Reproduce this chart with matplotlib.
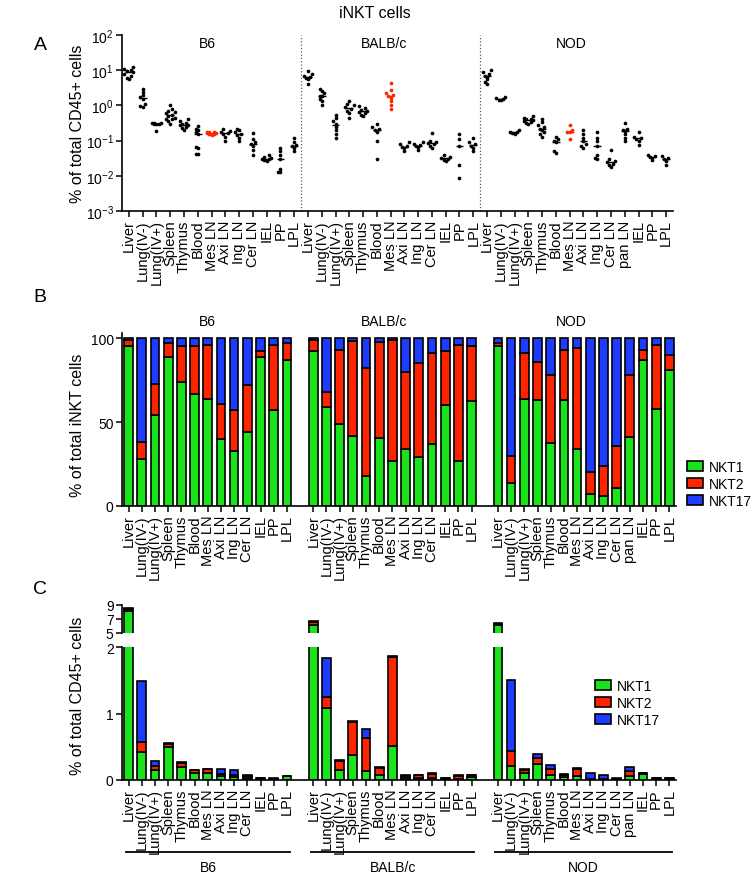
import numpy as np
import matplotlib
matplotlib.use('Agg')
import matplotlib.pyplot as plt
from matplotlib.patches import Patch
from matplotlib.transforms import blended_transform_factory

plt.rcParams['font.family'] = ['Liberation Sans', 'DejaVu Sans']
plt.rcParams['mathtext.default'] = 'regular'
plt.rcParams['axes.linewidth'] = 1.2

# ===== categories =====
tissues = ['Liver', 'Lung(IV-)', 'Lung(IV+)', 'Spleen', 'Thymus', 'Blood',
           'Mes LN', 'Axi LN', 'Ing LN', 'Cer LN', 'IEL', 'PP', 'LPL']
tissues_nod = tissues[:10] + ['pan LN'] + tissues[10:]
strains = ['B6', 'BALB/c', 'NOD']

# ===== A: % of CD45+ (individual mice) =====
b6_freq = [
    [12, 11, 10, 9.5, 8.8, 8, 7, 6, 5.8],
    [2.9, 2.4, 2.0, 1.7, 1.5, 1.1, 0.9, 0.95],
    [0.32, 0.31, 0.30, 0.30, 0.29, 0.31, 0.19],
    [1.0, 0.8, 0.7, 0.65, 0.6, 0.55, 0.5, 0.45, 0.42, 0.4, 0.35, 0.3],
    [0.4, 0.35, 0.32, 0.3, 0.28, 0.27, 0.25, 0.23, 0.2],
    [0.26, 0.22, 0.2, 0.17, 0.15, 0.065, 0.06, 0.042, 0.042],
    [0.18, 0.17, 0.17, 0.16, 0.16, 0.15, 0.15, 0.14],
    [0.22, 0.19, 0.17, 0.16, 0.15, 0.13, 0.1],
    [0.22, 0.2, 0.17, 0.15, 0.14, 0.12, 0.1],
    [0.16, 0.11, 0.09, 0.08, 0.07, 0.055, 0.04],
    [0.038, 0.035, 0.033, 0.031, 0.03, 0.028, 0.027],
    [0.06, 0.05, 0.04, 0.03, 0.016, 0.013, 0.013],
    [0.12, 0.09, 0.075, 0.07, 0.06, 0.05],
]
balb_freq = [
    [9.5, 8, 7, 6.5, 6, 5.5, 4],
    [3.0, 2.6, 2.2, 1.9, 1.8, 1.5, 1.3, 1.0],
    [0.55, 0.45, 0.35, 0.3, 0.25, 0.2, 0.15, 0.12],
    [1.35, 1.1, 1.0, 0.9, 0.8, 0.7, 0.6, 0.43],
    [0.95, 0.85, 0.75, 0.7, 0.65, 0.6, 0.55, 0.5],
    [0.3, 0.25, 0.22, 0.2, 0.18, 0.1, 0.03],
    [4.4, 2.8, 2.2, 2.0, 1.8, 1.6, 1.3, 1.0, 0.8],
    [0.09, 0.08, 0.07, 0.065, 0.06, 0.05],
    [0.09, 0.08, 0.075, 0.07, 0.065, 0.055],
    [0.16, 0.1, 0.09, 0.085, 0.08, 0.07, 0.06],
    [0.04, 0.035, 0.033, 0.03, 0.028, 0.027],
    [0.15, 0.11, 0.07, 0.02, 0.0085],
    [0.12, 0.09, 0.08, 0.07, 0.06, 0.05],
]
nod_freq = [
    [10, 9, 8, 7, 6.5, 5.5, 4.5, 4.0],
    [1.7, 1.6, 1.5, 1.45, 1.4],
    [0.2, 0.18, 0.17, 0.16, 0.15],
    [0.5, 0.45, 0.42, 0.4, 0.38, 0.36, 0.34, 0.32, 0.3],
    [0.4, 0.33, 0.28, 0.25, 0.22, 0.2, 0.17, 0.15, 0.13],
    [0.13, 0.11, 0.095, 0.09, 0.05, 0.045],
    [0.27, 0.2, 0.18, 0.17, 0.11],
    [0.2, 0.15, 0.12, 0.1, 0.08, 0.07, 0.06],
    [0.18, 0.12, 0.1, 0.07, 0.04, 0.032, 0.03],
    [0.055, 0.03, 0.027, 0.024, 0.022, 0.02, 0.018],
    [0.32, 0.22, 0.2, 0.19, 0.15, 0.12, 0.1],
    [0.17, 0.13, 0.12, 0.11, 0.1, 0.075],
    [0.038, 0.036, 0.035, 0.033, 0.028],
    [0.036, 0.033, 0.03, 0.027, 0.02],
]

# ===== B: subset composition (% of iNKT) =====
b6_pct1 = [95, 28, 54, 89, 74, 66.5, 64, 40, 33, 44, 88.6, 57, 87]
b6_pct2 = [3.8, 10, 18.5, 8, 21, 28.5, 32, 21, 24, 28, 3.6, 39, 10]
b6_pct17 = [1.2, 62, 27.5, 3, 5, 5, 4, 39, 43, 28, 7.8, 4, 3]
balb_pct1 = [92, 59, 49, 41.6, 18, 40.6, 27, 34, 29, 37, 60, 27, 62.4]
balb_pct2 = [7, 9, 44, 56.4, 64, 57.2, 72, 46, 56, 54, 32, 69, 32.6]
balb_pct17 = [1, 32, 7, 2, 18, 2.2, 1, 20, 15, 9, 8, 4, 5]
nod_pct1 = [95.4, 13.5, 64, 63, 37.6, 63, 34, 7, 6, 11, 41, 87, 58, 80.7]
nod_pct2 = [1.6, 16, 27, 23, 40.4, 30, 60, 13, 18, 25, 37, 6, 38, 9]
nod_pct17 = [3, 70.5, 9, 14, 22, 7, 6, 80, 76, 64, 22, 7, 4, 10.3]

# ===== C: subset frequency (% of CD45+) =====
b6_abs1 = [8.1, 0.425, 0.155, 0.5, 0.2, 0.1, 0.1, 0.06, 0.05, 0.035, 0.027, 0.012, 0.057]
b6_abs2 = [0.35, 0.15, 0.06, 0.045, 0.06, 0.045, 0.06, 0.035, 0.03, 0.025, 0.001, 0.01, 0.006]
b6_abs17 = [0.1, 0.915, 0.075, 0.015, 0.015, 0.008, 0.007, 0.065, 0.07, 0.02, 0.002, 0.001, 0.002]
balb_abs1 = [6.1, 1.08, 0.145, 0.375, 0.14, 0.075, 0.515, 0.025, 0.025, 0.035, 0.02, 0.02, 0.045]
balb_abs2 = [0.45, 0.17, 0.135, 0.49, 0.485, 0.11, 1.34, 0.035, 0.045, 0.055, 0.01, 0.045, 0.025]
balb_abs17 = [0.1, 0.58, 0.025, 0.02, 0.14, 0.01, 0.015, 0.015, 0.01, 0.01, 0.005, 0.005, 0.005]
nod_abs1 = [6.1, 0.205, 0.105, 0.24, 0.075, 0.04, 0.055, 0.008, 0.004, 0.003, 0.065, 0.095, 0.012, 0.02]
nod_abs2 = [0.25, 0.235, 0.04, 0.085, 0.09, 0.035, 0.11, 0.01, 0.012, 0.007, 0.075, 0.008, 0.015, 0.005]
nod_abs17 = [0.1, 1.06, 0.025, 0.06, 0.06, 0.01, 0.015, 0.085, 0.055, 0.015, 0.05, 0.007, 0.003, 0.005]

GREEN, RED, BLUE = '#1BE31B', '#FF2400', '#1E3CFF'
W, H = 751, 878
TICK_FS = 10
XLAB_FS = 10.5


def fx(px):
    return px / W


def fy(py):
    return 1 - py / H


def swarm(vals, step=0.16, tol=0.07):
    logv = np.log10(np.asarray(vals, dtype=float))
    offs = np.zeros(len(logv))
    k, prev = 0, None
    for i in np.argsort(logv):
        k = k + 1 if (prev is not None and logv[i] - prev < tol) else 0
        prev = logv[i]
        n = ((k + 1) // 2 - 1) % 2 + 1 if k else 0
        offs[i] = (-1 if k % 2 else 1) * n * step
    return offs


fig = plt.figure(figsize=(W / 100, H / 100), dpi=100)
fig.text(fx(375), fy(13), 'iNKT cells', ha='center', va='center', fontsize=11.5)

# ===== Panel A =====
axA = fig.add_axes([fx(122), fy(212), fx(673 - 122), (212 - 36) / H])
labelsA = tissues + tissues + tissues_nod
allfreq = b6_freq + balb_freq + nod_freq
mes_idx = [6, 19, 32]
for i, vals in enumerate(allfreq):
    c = RED if i in mes_idx else 'k'
    axA.scatter(i + swarm(vals), vals, s=7, color=c, lw=0, zorder=3)
    axA.hlines(np.median(vals), i - 0.28, i + 0.28, color=c, lw=1, zorder=3)
axA.set_yscale('log')
axA.set_ylim(1e-3, 1e2)
axA.set_xlim(-0.5, len(labelsA) - 0.5)
axA.yaxis.set_minor_locator(matplotlib.ticker.NullLocator())
axA.set_xticks(np.arange(len(labelsA)))
axA.set_xticklabels(labelsA, rotation=90, fontsize=XLAB_FS)
for xs in [12.5, 25.5]:
    axA.axvline(xs, color='0.35', ls=':', lw=0.9)
for s in ['top', 'right']:
    axA.spines[s].set_visible(False)
axA.tick_params(labelsize=TICK_FS, width=1.1, length=4, pad=2)
axA.tick_params(axis='x', labelsize=XLAB_FS)
for s, xp in zip(strains, [207, 384, 571]):
    fig.text(fx(xp), fy(44), s, ha='center', va='center', fontsize=10)

# ===== Panel B =====
pos_b6 = np.arange(13)
pos_balb = 14 + np.arange(13)
pos_nod = 28 + np.arange(14)
posall = np.concatenate([pos_b6, pos_balb, pos_nod])
labelsBC = tissues + tissues + tissues_nod

axB = fig.add_axes([fx(122), fy(507), fx(676 - 122), 173 / H])
for pos, p1, p2, p17 in [(pos_b6, b6_pct1, b6_pct2, b6_pct17),
                         (pos_balb, balb_pct1, balb_pct2, balb_pct17),
                         (pos_nod, nod_pct1, nod_pct2, nod_pct17)]:
    p1, p2, p17 = map(np.array, (p1, p2, p17))
    kw = dict(width=0.66, edgecolor='k', lw=1.2)
    axB.bar(pos, p1, color=GREEN, **kw)
    axB.bar(pos, p2, bottom=p1, color=RED, **kw)
    axB.bar(pos, p17, bottom=p1 + p2, color=BLUE, **kw)
axB.set_xlim(-0.5, 41.5)
axB.set_ylim(0, 103)
axB.set_yticks([0, 50, 100])
axB.set_xticks(posall)
axB.set_xticklabels(labelsBC, rotation=90, fontsize=XLAB_FS)
for s in ['top', 'right']:
    axB.spines[s].set_visible(False)
axB.tick_params(labelsize=TICK_FS, width=1.1, length=4, pad=2)
axB.tick_params(axis='x', labelsize=XLAB_FS)
for s, xp in zip(strains, [207, 384, 571]):
    fig.text(fx(xp), fy(322), s, ha='center', va='center', fontsize=10)

handles = [Patch(facecolor=c, edgecolor='k', lw=1.2) for c in (GREEN, RED, BLUE)]
names = ['NKT1', 'NKT2', 'NKT17']
leg_kw = dict(loc='upper left', frameon=False, fontsize=10, handlelength=1.15,
              handleheight=0.7, labelspacing=0.2, handletextpad=0.45,
              borderpad=0, borderaxespad=0)
fig.legend(handles, names, bbox_to_anchor=(fx(687), fy(461)), **leg_kw)

# ===== Panel C (broken y-axis) =====
axC = fig.add_axes([fx(122), fy(781), fx(676 - 122), 133 / H])
axCu = fig.add_axes([fx(122), fy(634), fx(676 - 122), 28 / H], sharex=axC)
for ax in (axC, axCu):
    for pos, a1, a2, a17 in [(pos_b6, b6_abs1, b6_abs2, b6_abs17),
                             (pos_balb, balb_abs1, balb_abs2, balb_abs17),
                             (pos_nod, nod_abs1, nod_abs2, nod_abs17)]:
        a1, a2, a17 = map(np.array, (a1, a2, a17))
        kw = dict(width=0.66, edgecolor='k', lw=1.2)
        ax.bar(pos, a1, color=GREEN, **kw)
        ax.bar(pos, a2, bottom=a1, color=RED, **kw)
        ax.bar(pos, a17, bottom=a1 + a2, color=BLUE, **kw)
    ax.spines['right'].set_visible(False)
    ax.spines['top'].set_visible(False)
    ax.tick_params(labelsize=TICK_FS, width=1.1, length=4, pad=2)
axC.tick_params(axis='x', labelsize=XLAB_FS)
axC.set_ylim(0, 2)
axC.set_yticks([0, 1, 2])
axCu.set_ylim(5, 9)
axCu.set_yticks([5, 7, 9])
axCu.spines['bottom'].set_visible(False)
axCu.tick_params(axis='x', bottom=False, labelbottom=False)
axC.set_xlim(-0.5, 41.5)
axC.set_xticks(posall)
axC.set_xticklabels(labelsBC, rotation=90, fontsize=XLAB_FS)

tr = blended_transform_factory(axC.transData, axC.transAxes)
for s, pos in zip(strains, [pos_b6, pos_balb, pos_nod]):
    axC.plot([pos[0] - 0.2, pos[-1] + 0.2], [-0.54, -0.54], color='k', lw=1.3,
             transform=tr, clip_on=False)
for s, xp in zip(strains, [208, 393, 583]):
    fig.text(fx(xp), fy(868), s, ha='center', va='center', fontsize=10)

fig.legend(handles, names, bbox_to_anchor=(fx(595), fy(680)), **leg_kw)

# ===== axis titles and panel letters =====
fig.text(fx(77), fy(124), '% of total CD45+ cells', rotation=90,
         ha='center', va='center', fontsize=11.5)
fig.text(fx(77), fy(425), '% of total iNKT cells', rotation=90,
         ha='center', va='center', fontsize=11.5)
fig.text(fx(77), fy(696), '% of total CD45+ cells', rotation=90,
         ha='center', va='center', fontsize=11.5)
for lt, yp in [('A', 45), ('B', 297), ('C', 590)]:
    fig.text(fx(40), fy(yp), lt, ha='center', va='center', fontsize=14)

fig.savefig('out.png', dpi=100)
